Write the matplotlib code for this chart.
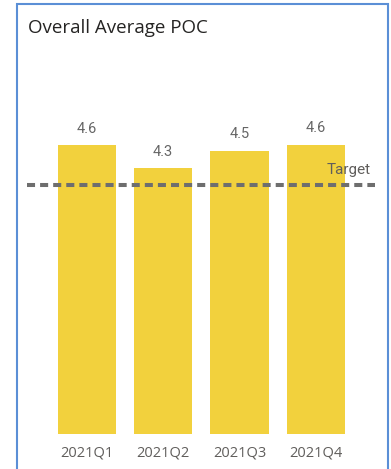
import numpy as np
import matplotlib
matplotlib.use("Agg")
import matplotlib.pyplot as plt
from matplotlib.patches import Rectangle

# Data
quarters = ['2021Q1', '2021Q2', '2021Q3', '2021Q4']
avg_poc = [4.63, 4.26, 4.54, 4.64]
target = 4.0

bar_color = '#F2D13D'
text_grey = '#605E5C'

W, H = 391, 469
fig = plt.figure(figsize=(W/100, H/100), dpi=100)
fig.patch.set_facecolor('white')

# plot area in pixels: x 27..375, y 100..434
ax = fig.add_axes([27/W, (H-434.3)/H, (375-27)/W, (434.3-100)/H])
x = np.arange(len(quarters))
ax.bar(x, avg_poc, width=0.76, color=bar_color, zorder=2)
ax.axhline(target, color='#6E6E6E', lw=2.9, dashes=(2.0, 1.25),
           dash_capstyle='butt', zorder=3)

for xi, v in zip(x, avg_poc):
    ax.annotate(f'{v:.1f}', (xi, v), xytext=(0, 7), textcoords='offset points',
                ha='center', va='bottom', fontsize=10.5, color='#666666',
                family='Roboto')

ax.text(3.72, target + 0.12, 'Target', ha='right', va='bottom', fontsize=11,
        color=text_grey, family='Roboto')

ax.set_xlim(-0.781, 3.773)
ax.set_ylim(0, 5.357)
ax.set_xticks(x)
ax.set_xticklabels(quarters, family='Open Sans', fontsize=10.5, color=text_grey)
ax.tick_params(axis='x', length=0, pad=8)
ax.set_yticks([])
for s in ax.spines.values():
    s.set_visible(False)
ax.set_facecolor('none')

# title
fig.text(28/W, 1 - 28/H, 'Overall Average POC', ha='left', va='center',
         fontsize=13.5, color='#252423', family='Open Sans')

# blue visual border (bottom runs off the image)
fig.add_artist(Rectangle((16.5/W, -0.05), (387.5-16.5)/W, 1.05 - 4.5/H,
                         transform=fig.transFigure, fill=False,
                         edgecolor='#5B8FD6', lw=1.5))

plt.savefig('out.png', dpi=100)
